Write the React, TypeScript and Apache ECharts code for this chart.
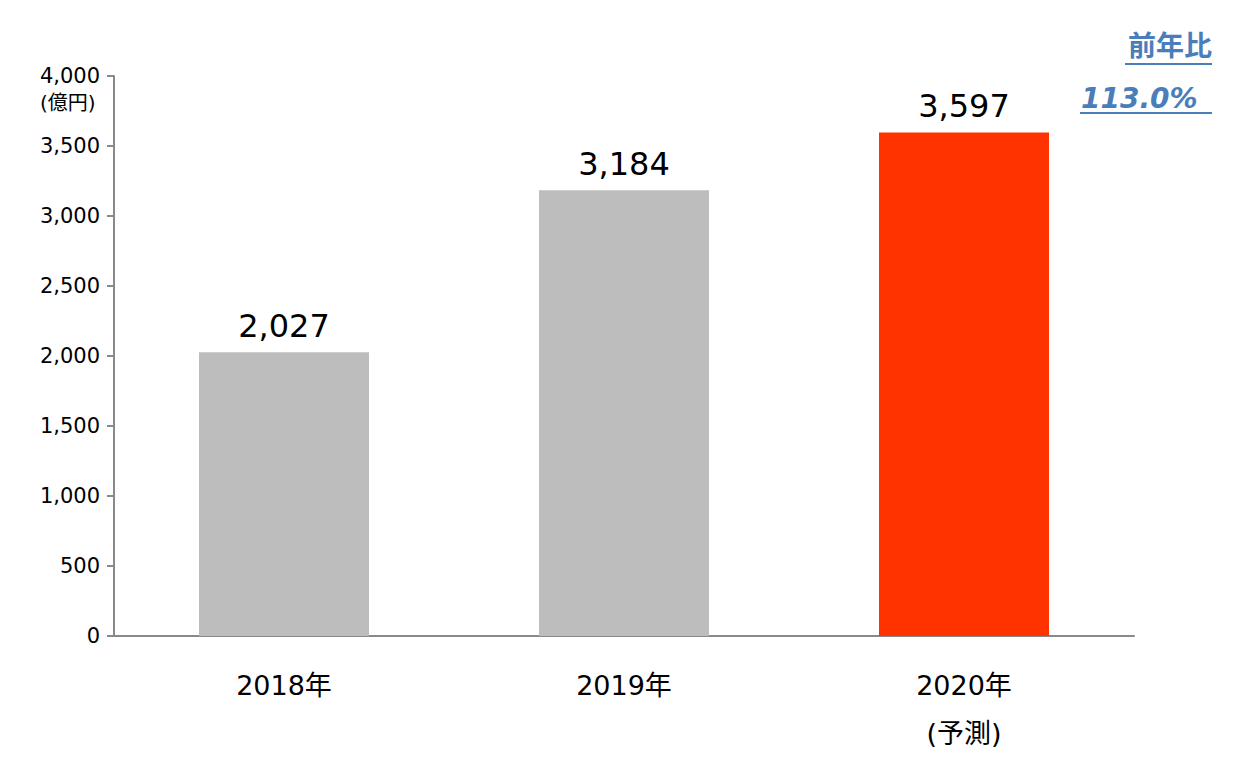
import React, { useEffect, useRef } from "react";
import * as echarts from "echarts";

const categories = ["2018年", "2019年", "2020年\n(予測)"];
const values = [2027, 3184, 3597];
const barColors = ["#bdbdbd", "#bdbdbd", "#ff3300"];
const yTicks = [0, 500, 1000, 1500, 2000, 2500, 3000, 3500, 4000];
const unitLabel = "(億円)";
const yoyTitle = "前年比";
const yoyValue = "113.0%";

const FONT = "'DejaVu Sans', 'Noto Sans CJK JP', sans-serif";

export default function App() {
  const ref = useRef<HTMLDivElement>(null);
  useEffect(() => {
    if (!ref.current) return;
    const chart = echarts.init(ref.current, null, { renderer: "svg" });
    chart.setOption({
      animation: false,
      grid: { left: 114, right: 113, top: 76, bottom: 142, containLabel: false },
      xAxis: {
        type: "category",
        data: categories,
        axisLine: { lineStyle: { color: "#898989", width: 2 } },
        axisTick: { show: false },
        axisLabel: {
          color: "#000",
          fontSize: 27,
          fontFamily: FONT,
          margin: 25,
          lineHeight: 48,
        },
      },
      yAxis: {
        type: "value",
        min: yTicks[0],
        max: yTicks[yTicks.length - 1],
        interval: 500,
        splitLine: { show: false },
        axisLine: { show: true, lineStyle: { color: "#898989", width: 2 } },
        axisTick: { show: true, length: 7, lineStyle: { color: "#898989", width: 2 } },
        axisLabel: {
          color: "#000",
          fontSize: 21,
          fontFamily: FONT,
          margin: 14,
          formatter: (v: number) => v.toLocaleString("en-US"),
        },
      },
      series: [
        {
          type: "bar",
          barWidth: "50%",
          data: values.map((v, i) => ({ value: v, itemStyle: { color: barColors[i] } })),
          label: {
            show: true,
            position: "top",
            distance: 10,
            color: "#000",
            fontSize: 32,
            fontFamily: FONT,
            formatter: (p: any) => Number(p.value).toLocaleString("en-US"),
          },
        },
      ],
      graphic: [
        {
          type: "text",
          left: 40,
          top: 93,
          style: { text: unitLabel, fill: "#000", fontSize: 20, fontFamily: FONT },
        },
        {
          type: "text",
          right: 35,
          top: 30,
          style: {
            text: yoyTitle,
            fill: "#4a7ebb",
            fontSize: 28,
            fontWeight: "bold",
            fontFamily: "'Noto Sans CJK JP', sans-serif",
          },
        },
        {
          type: "line",
          shape: { x1: 1125, y1: 64, x2: 1212, y2: 64 },
          style: { stroke: "#4a7ebb", lineWidth: 2 },
        },
        {
          type: "text",
          left: 1081,
          top: 84,
          style: {
            text: yoyValue,
            fill: "#4a7ebb",
            fontSize: 28,
            fontWeight: "bold",
            fontStyle: "italic",
            fontFamily: FONT,
          },
        },
        {
          type: "line",
          shape: { x1: 1080, y1: 113, x2: 1212, y2: 113 },
          style: { stroke: "#4a7ebb", lineWidth: 2 },
        },
      ],
    });
    return () => chart.dispose();
  }, []);
  return <div ref={ref} style={{ width: 1247, height: 778, position: "absolute", left: 0, top: 0 }} />;
}
